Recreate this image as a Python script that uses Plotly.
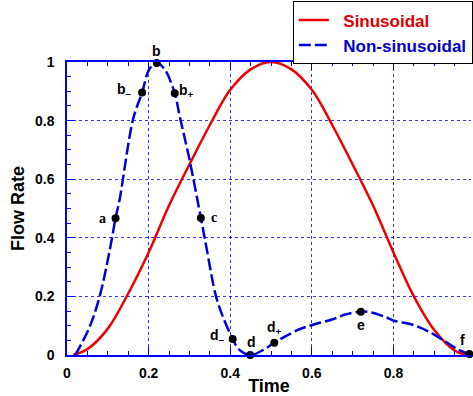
import plotly.graph_objects as go

# ---- data ----
sin_t = [0.015, 0.05, 0.1, 0.15, 0.2, 0.25, 0.3, 0.35, 0.4, 0.45, 0.5,
         0.55, 0.6, 0.65, 0.7, 0.75, 0.8, 0.85, 0.9, 0.95, 0.98]
sin_q = [0.0, 0.02, 0.09, 0.21, 0.35, 0.51, 0.65, 0.785, 0.905, 0.975, 1.0,
         0.975, 0.905, 0.785, 0.65, 0.51, 0.35, 0.2, 0.085, 0.015, 0.0]

non_t = [0.02, 0.028, 0.056, 0.080, 0.105, 0.119, 0.129, 0.162, 0.184, 0.202,
         0.220, 0.239, 0.264, 0.276, 0.300, 0.328, 0.341, 0.365, 0.385, 0.406,
         0.421, 0.449, 0.483, 0.508, 0.568, 0.605, 0.649, 0.682, 0.720, 0.746,
         0.783, 0.804, 0.845, 0.885, 0.926, 0.958, 0.986]
non_q = [0.0, 0.019, 0.098, 0.20, 0.36, 0.467, 0.531, 0.805, 0.896, 0.976,
         0.997, 0.976, 0.893, 0.816, 0.668, 0.468, 0.372, 0.201, 0.12, 0.055,
         0.019, 0.0, 0.019, 0.042, 0.087, 0.104, 0.121, 0.138, 0.148, 0.145,
         0.128, 0.116, 0.104, 0.081, 0.047, 0.019, 0.003]

pt_names = ["a", "b-", "b", "b+", "c", "d-", "d", "d+", "e", "f"]
pt_t = [0.119, 0.184, 0.220, 0.264, 0.328, 0.406, 0.449, 0.508, 0.720, 0.986]
pt_q = [0.467, 0.896, 0.997, 0.893, 0.468, 0.055, 0.0, 0.042, 0.148, 0.003]

series_names = ["Sinusoidal", "Non-sinusoidal"]

# ---- styling ----
RED = "#ee0000"
BLUE = "#0000dd"
AXIS_BLUE = "#0000ff"
PAD = "\u00a0\u00a0"

fig = go.Figure()
fig.add_trace(go.Scatter(
    x=sin_t, y=sin_q, mode="lines", line=dict(color=RED, width=2.5, shape="spline"),
    name=PAD + "<span style='color:%s'>%s</span>" % ("#e00000", series_names[0]),
    cliponaxis=False))
fig.add_trace(go.Scatter(
    x=non_t, y=non_q, mode="lines",
    line=dict(color=BLUE, width=2.5, shape="spline", dash="12px,4px"),
    name=PAD + "<span style='color:%s'>%s</span>" % ("#0000cc", series_names[1]),
    cliponaxis=False))
fig.add_trace(go.Scatter(
    x=pt_t, y=pt_q, mode="markers", marker=dict(color="black", size=8),
    showlegend=False, cliponaxis=False))

# label placement (pixel offsets) and formatting
label_style = {
    "a":  dict(text="a", xs=-13, ys=0, fam="Liberation Serif"),
    "b-": dict(text="b<sub>\u2013</sub>", xs=-18, ys=2, fam="Liberation Sans"),
    "b":  dict(text="b", xs=0, ys=12, fam="Liberation Sans"),
    "b+": dict(text="b<sub>+</sub>", xs=12, ys=2, fam="Liberation Sans"),
    "c":  dict(text="c", xs=13, ys=0, fam="Liberation Serif"),
    "d-": dict(text="d<sub>\u2013</sub>", xs=-15, ys=3, fam="Liberation Sans"),
    "d":  dict(text="d", xs=1, ys=13, fam="Liberation Sans"),
    "d+": dict(text="d<sub>+</sub>", xs=0, ys=15, fam="Liberation Sans"),
    "e":  dict(text="e", xs=0, ys=-13, fam="Liberation Sans"),
    "f":  dict(text="f", xs=-7, ys=14, fam="Liberation Sans"),
}
for n, t, q in zip(pt_names, pt_t, pt_q):
    s = label_style[n]
    fig.add_annotation(x=t, y=q, xref="x", yref="y", text=s["text"], showarrow=False,
                       xshift=s["xs"], yshift=s["ys"],
                       font=dict(family=s["fam"], size=14, color="black", weight="bold"))

axis_common = dict(
    showline=True, linecolor=AXIS_BLUE, linewidth=1.5,
    ticks="inside", ticklen=8, tickcolor=AXIS_BLUE, tickwidth=1,
    showgrid=True, gridcolor="rgba(0,0,255,0.8)", griddash="dot", gridwidth=1,
    zeroline=False, dtick=0.2,
    minor=dict(ticks="inside", ticklen=4, tickcolor=AXIS_BLUE, dtick=0.05, showgrid=False),
    tickfont=dict(family="Liberation Sans", size=14, color="black", weight="bold"),
)

fig.update_layout(
    width=473, height=396,
    margin=dict(l=67, r=0, t=62, b=41),
    plot_bgcolor="white", paper_bgcolor="white",
    xaxis=dict(range=[0, 0.99], mirror="ticks",
               title=dict(text="Time", standoff=4,
                          font=dict(family="Liberation Sans", size=18, color="black", weight="bold")),
               ticklabelstandoff=4, **axis_common),
    yaxis=dict(range=[0, 1], mirror=False,
               title=dict(text="Flow Rate", standoff=6,
                          font=dict(family="Liberation Sans", size=18, color="black", weight="bold")),
               ticklabelstandoff=8, **axis_common),
    legend=dict(x=0.559, y=1.207, xanchor="left", yanchor="top",
                bordercolor="black", borderwidth=1, bgcolor="white",
                font=dict(family="Liberation Sans", size=17, weight="bold"),
                tracegroupgap=0, itemwidth=30),
    showlegend=True,
)

fig.write_html("out.html")
